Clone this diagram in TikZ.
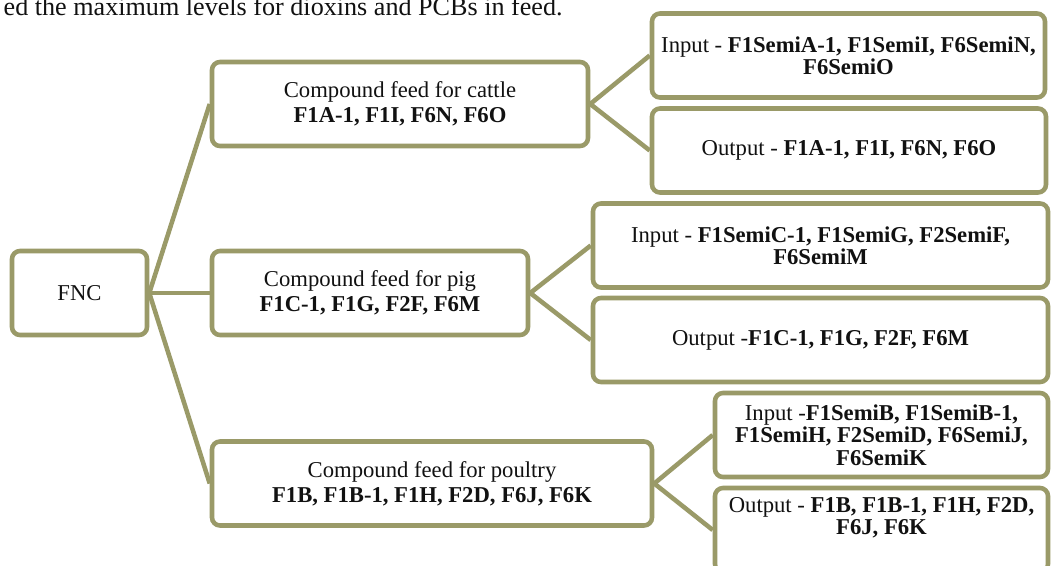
\documentclass[tikz,border=0pt]{standalone}
\usepackage{fontspec}
\setmainfont{Liberation Serif}
\definecolor{Olive}{HTML}{9A9A68}
\definecolor{TextInk}{HTML}{111111}
\begin{document}
\begin{tikzpicture}[x=0.75pt,y=-0.75pt,every node/.style={text=TextInk,font=\fontsize{17}{16.8}\selectfont},
box/.style={draw=Olive,fill=white,line width=3.4pt,rounded corners=6pt,minimum height=63pt,align=center,inner sep=2pt},
midbox/.style={box,font=\fontsize{17}{19}\selectfont},link/.style={draw=Olive,line width=3.4pt}]
\useasboundingbox[fill=white](0,0)rectangle(1051,565);
\node[anchor=base west,font=\fontsize{19.6}{22}\selectfont](Lead)at(-1,15){ed the maximum levels for dioxins and PCBs in feed.};
\node[box,minimum width=101.25pt](Fnc)at(79.5,293){FNC};
\node[midbox,minimum width=282pt](Cattle)at(400,104){Compound feed for cattle\\\textbf{F1A-1, F1I, F6N, F6O}};
\node[midbox,minimum width=237pt](Pig)at(370,293){Compound feed for pig\\\textbf{F1C-1, F1G, F2F, F6M}};
\node[midbox,minimum width=330pt](Poultry)at(432,483.5){Compound feed for poultry\\\textbf{F1B, F1B-1, F1H, F2D, F6J, F6K}};
\node[box,minimum width=294.75pt](CattleIn)at(848.5,55.5){Input - \textbf{F1SemiA-1, F1SemiI, F6SemiN,}\\\textbf{F6SemiO}};
\node[box,minimum width=295.5pt](CattleOut)at(849,150.5){Output - \textbf{F1A-1, F1I, F6N, F6O}};
\node[box,minimum width=341.25pt](PigIn)at(820.5,245.5){Input - \textbf{F1SemiC-1, F1SemiG, F2SemiF,}\\\textbf{F6SemiM}};
\node[box,minimum width=341.25pt](PigOut)at(820.5,340){Output -\textbf{F1C-1, F1G, F2F, F6M}};
\node[box,minimum width=249.75pt](PoultryIn)at(881.5,435){Input -\textbf{F1SemiB, F1SemiB-1,}\\\textbf{F1SemiH, F2SemiD, F6SemiJ,}\\\textbf{F6SemiK}};
\node[box,minimum width=249.75pt,text depth=21pt](PoultryOut)at(881.5,530){Output - \textbf{F1B, F1B-1, F1H, F2D,}\\\textbf{F6J, F6K}};
\draw[link](Fnc.east)--(Cattle.west);\draw[link](Fnc.east)--(Pig.west);\draw[link](Fnc.east)--(Poultry.west);
\draw[link](Cattle.east)--(CattleIn.west);\draw[link](Cattle.east)--(CattleOut.west);
\draw[link](Pig.east)--(PigIn.west);\draw[link](Pig.east)--(PigOut.west);
\draw[link](Poultry.east)--(PoultryIn.west);\draw[link](Poultry.east)--(PoultryOut.west);
\end{tikzpicture}
\end{document}
